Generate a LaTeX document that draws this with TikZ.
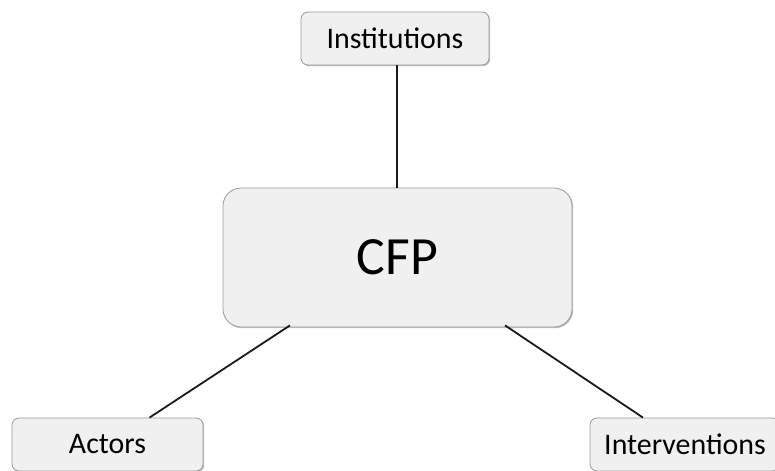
\documentclass[tikz,border=0pt]{standalone}
\usepackage{fontspec}
\setmainfont{Carlito}
\usepackage{xcolor}
\usepackage{tikz}
\usetikzlibrary{positioning,calc,shadows}
\definecolor{BoxFill}{HTML}{F0F0F0}
\definecolor{BoxLine}{HTML}{9A9A9A}
\definecolor{LinkDark}{HTML}{1A1A1A}

\begin{document}
\begin{tikzpicture}[x=1bp,y=-1bp,
                    box/.style={draw=BoxLine, fill=BoxFill, rounded corners=7bp,
                                line width=0.8bp, inner sep=0pt, align=center,
                                drop shadow={shadow xshift=1.2bp, shadow yshift=-1.2bp,
                                             fill=black, opacity=0.25},
                                minimum height=53bp, font=\fontsize{30}{34}\selectfont},
                    link/.style={LinkDark, line width=1.8bp}]
      \useasboundingbox (0,0) rectangle (775,471);
      \node[box, minimum width=188bp] (inst) at (395,38.5) {Institutions};
      \node[box, minimum width=349bp, minimum height=139bp, rounded corners=18bp,
            font=\fontsize{54}{60}\selectfont] (cfp) at (397.5,257.5) {CFP};
      \node[box, minimum width=191bp] (act) at (107.5,444.5) {Actors};
      \node[box, minimum width=190bp] (intv) at (685,444.5) {Interventions};
      \draw[link] ([xshift=2bp]inst.south) -- ([xshift=2bp]inst.south |- cfp.north);
      \draw[link] ([xshift=42bp]act.north) -- ([xshift=-107.5bp,yshift=2bp]cfp.south);
      \draw[link] ([xshift=-42bp]intv.north) -- ([xshift=107.5bp,yshift=2bp]cfp.south);
    \end{tikzpicture}
\end{document}
